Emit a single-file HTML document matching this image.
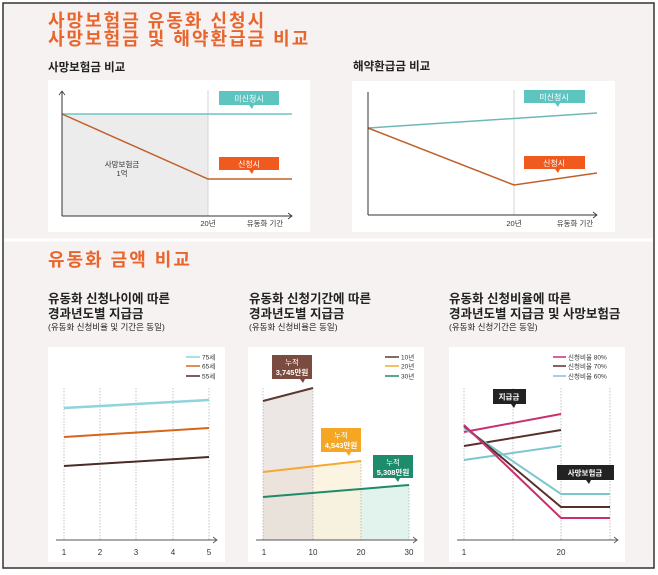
<!DOCTYPE html>
<html><head><meta charset="utf-8"><style>
html,body{margin:0;padding:0;background:#fff;}
svg{display:block;font-family:"Liberation Sans","Noto Sans CJK KR",sans-serif;}
</style></head><body>
<svg width="658" height="575" viewBox="0 0 658 575" xmlns="http://www.w3.org/2000/svg">
<rect x="3" y="3" width="651" height="565" fill="#f7f2f2" stroke="#333" stroke-width="1.5"/>
<line x1="4" y1="240" x2="653" y2="240" stroke="#fff" stroke-width="3"/>

<!-- Top titles -->
<text x="48" y="27" font-size="18" letter-spacing="2" font-weight="bold" fill="#e9652c">사망보험금 유동화 신청시</text>
<text x="48" y="45" font-size="18" letter-spacing="2" font-weight="bold" fill="#e9652c">사망보험금 및 해약환급금 비교</text>
<text x="48" y="71" font-size="11.5" font-weight="bold" fill="#222">사망보험금 비교</text>
<text x="353" y="70" font-size="11.5" font-weight="bold" fill="#222">해약환급금 비교</text>

<!-- Chart 1 -->
<rect x="48" y="80" width="262" height="152" fill="#fff"/>
<rect x="62" y="114" width="146" height="102" fill="#ececec"/>
<line x1="208" y1="90" x2="208" y2="216" stroke="#ccc" stroke-width="0.8"/>
<line x1="62" y1="114" x2="292" y2="114" stroke="#6fc3c3" stroke-width="1.5"/>
<polyline points="62,114 208,179 292,179" fill="none" stroke="#c0602a" stroke-width="1.5"/>
<line x1="62" y1="216" x2="292" y2="216" stroke="#333" stroke-width="1"/>
<line x1="62" y1="92" x2="62" y2="216" stroke="#333" stroke-width="1"/>
<polyline points="288,213 292,216 288,219" fill="none" stroke="#333" stroke-width="0.8"/>
<polyline points="59,95 62,91 65,95" fill="none" stroke="#333" stroke-width="0.8"/>
<rect x="219" y="91" width="60" height="14" fill="#5ec4c0"/><polygon points="249,105 254,105 252,109" fill="#5ec4c0"/>
<text x="249" y="101.5" font-size="8" fill="#fff" text-anchor="middle">미신청시</text>
<rect x="219" y="157" width="60" height="13" fill="#f05a1e"/><polygon points="249,170 254,170 252,174" fill="#f05a1e"/>
<text x="249" y="167" font-size="8" fill="#fff" text-anchor="middle">신청시</text>
<text x="122" y="167" font-size="7.5" fill="#333" text-anchor="middle">사망보험금</text>
<text x="122" y="176" font-size="7.5" fill="#333" text-anchor="middle">1억</text>
<text x="208" y="226" font-size="7.5" fill="#333" text-anchor="middle">20년</text>
<text x="265" y="226" font-size="7.5" fill="#333" text-anchor="middle">유동화 기간</text>

<!-- Chart 2 -->
<rect x="352" y="81" width="263" height="151" fill="#fff"/>
<line x1="514" y1="90" x2="514" y2="215" stroke="#ccc" stroke-width="0.8"/>
<line x1="368" y1="128" x2="597" y2="113" stroke="#6fb8b8" stroke-width="1.5"/>
<polyline points="368,128 514,185 597,173" fill="none" stroke="#c0602a" stroke-width="1.5"/>
<line x1="368" y1="215" x2="597" y2="215" stroke="#333" stroke-width="1"/>
<line x1="368" y1="92" x2="368" y2="215" stroke="#333" stroke-width="1"/>
<polyline points="593,212 597,215 593,218" fill="none" stroke="#333" stroke-width="0.8"/>
<rect x="524" y="90" width="61" height="13" fill="#5ec4c0"/><polygon points="555,103 560,103 558,107" fill="#5ec4c0"/>
<text x="554" y="100" font-size="8" fill="#fff" text-anchor="middle">미신청시</text>
<rect x="524" y="156" width="61" height="13" fill="#f05a1e"/><polygon points="555,169 560,169 558,173" fill="#f05a1e"/>
<text x="554" y="166" font-size="8" fill="#fff" text-anchor="middle">신청시</text>
<text x="514" y="226" font-size="7.5" fill="#333" text-anchor="middle">20년</text>
<text x="575" y="226" font-size="7.5" fill="#333" text-anchor="middle">유동화 기간</text>

<!-- Section 2 -->
<text x="48" y="266" font-size="18" letter-spacing="2" font-weight="bold" fill="#e9652c">유동화 금액 비교</text>

<!-- Panel A -->
<text x="48" y="303" font-size="12.5" font-weight="bold" fill="#222">유동화 신청나이에 따른</text>
<text x="48" y="318" font-size="12.5" font-weight="bold" fill="#222">경과년도별 지급금</text>
<text x="48" y="330" font-size="8.5" fill="#222">(유동화 신청비율 및 기간은 동일)</text>
<rect x="48" y="347" width="177" height="215" fill="#fff"/>
<g stroke="#aaa" stroke-width="0.7" stroke-dasharray="1.5,1.5">
<line x1="64" y1="388" x2="64" y2="540"/><line x1="100" y1="388" x2="100" y2="540"/><line x1="136" y1="388" x2="136" y2="540"/><line x1="173" y1="388" x2="173" y2="540"/><line x1="209" y1="388" x2="209" y2="540"/></g>
<line x1="64" y1="408" x2="209" y2="400" stroke="#8fd3dc" stroke-width="2.5"/>
<line x1="64" y1="437" x2="209" y2="428" stroke="#d8651e" stroke-width="2"/>
<line x1="64" y1="466" x2="209" y2="457" stroke="#4a2c26" stroke-width="2"/>
<line x1="56" y1="540" x2="217" y2="540" stroke="#555" stroke-width="1"/>
<polyline points="213,537 217,540 213,543" fill="none" stroke="#555" stroke-width="0.8"/>
<g font-size="8" fill="#333" text-anchor="middle"><text x="64" y="555">1</text><text x="100" y="555">2</text><text x="136" y="555">3</text><text x="173" y="555">4</text><text x="209" y="555">5</text></g>
<g font-size="6.5" fill="#333"><line x1="186" y1="357" x2="200" y2="357" stroke="#8fd3dc" stroke-width="1.5"/><text x="202" y="359.5">75세</text>
<line x1="186" y1="366" x2="200" y2="366" stroke="#d8651e" stroke-width="1.5"/><text x="202" y="368.5">65세</text>
<line x1="186" y1="376" x2="200" y2="376" stroke="#4a2c26" stroke-width="1.5"/><text x="202" y="378.5">55세</text></g>

<!-- Panel B -->
<text x="249" y="303" font-size="12.5" font-weight="bold" fill="#222">유동화 신청기간에 따른</text>
<text x="249" y="318" font-size="12.5" font-weight="bold" fill="#222">경과년도별 지급금</text>
<text x="249" y="330" font-size="8.5" fill="#222">(유동화 신청비율은 동일)</text>
<rect x="248" y="347" width="176" height="215" fill="#fff"/>
<polygon points="263,497 409,485 409,540 263,540" fill="#e2f2ec"/>
<polygon points="263,472 361,461 361,540 263,540" fill="#fbf1dc" opacity="0.8"/>
<polygon points="263,401 313,388 313,540 263,540" fill="#e4dcd8" opacity="0.7"/>
<g stroke="#aaa" stroke-width="0.7" stroke-dasharray="1.5,1.5">
<line x1="263" y1="388" x2="263" y2="540"/><line x1="313" y1="388" x2="313" y2="540"/><line x1="361" y1="461" x2="361" y2="540"/><line x1="409" y1="485" x2="409" y2="540"/></g>
<line x1="263" y1="401" x2="313" y2="388" stroke="#5a3a30" stroke-width="2"/>
<line x1="263" y1="472" x2="361" y2="461" stroke="#f5a833" stroke-width="2"/>
<line x1="263" y1="497" x2="409" y2="485" stroke="#1f8a6a" stroke-width="2"/>
<line x1="256" y1="540" x2="417" y2="540" stroke="#555" stroke-width="1"/>
<polyline points="413,537 417,540 413,543" fill="none" stroke="#555" stroke-width="0.8"/>
<g font-size="8" fill="#333" text-anchor="middle"><text x="264" y="555">1</text><text x="313" y="555">10</text><text x="361" y="555">20</text><text x="409" y="555">30</text></g>
<rect x="272" y="355" width="40" height="24" fill="#7a4b3e"/><polygon points="300,379 305,379 303,383" fill="#7a4b3e"/>
<text x="292" y="365" font-size="7.5" fill="#fff" text-anchor="middle">누적</text><text x="292" y="375" font-size="7.5" font-weight="bold" fill="#fff" text-anchor="middle">3,745만원</text>
<rect x="321" y="428" width="40" height="24" fill="#f5a623"/><polygon points="346,452 351,452 349,456" fill="#f5a623"/>
<text x="341" y="438" font-size="7.5" fill="#fff" text-anchor="middle">누적</text><text x="341" y="448" font-size="7.5" font-weight="bold" fill="#fff" text-anchor="middle">4,543만원</text>
<rect x="373" y="455" width="40" height="23" fill="#1e8c6c"/><polygon points="395,478 400,478 398,482" fill="#1e8c6c"/>
<text x="393" y="465" font-size="7.5" fill="#fff" text-anchor="middle">누적</text><text x="393" y="475" font-size="7.5" font-weight="bold" fill="#fff" text-anchor="middle">5,308만원</text>
<g font-size="6.5" fill="#333"><line x1="385" y1="357" x2="399" y2="357" stroke="#5a3a30" stroke-width="1.5"/><text x="401" y="359.5">10년</text>
<line x1="385" y1="366" x2="399" y2="366" stroke="#f5a833" stroke-width="1.5"/><text x="401" y="368.5">20년</text>
<line x1="385" y1="376" x2="399" y2="376" stroke="#1f8a6a" stroke-width="1.5"/><text x="401" y="378.5">30년</text></g>

<!-- Panel C -->
<text x="449" y="303" font-size="12.5" font-weight="bold" fill="#222">유동화 신청비율에 따른</text>
<text x="449" y="318" font-size="12.5" font-weight="bold" fill="#222">경과년도별 지급금 및 사망보험금</text>
<text x="449" y="330" font-size="8.5" fill="#222">(유동화 신청기간은 동일)</text>
<rect x="449" y="347" width="176" height="215" fill="#fff"/>
<g stroke="#aaa" stroke-width="0.7" stroke-dasharray="1.5,1.5">
<line x1="464" y1="388" x2="464" y2="540"/><line x1="513" y1="388" x2="513" y2="540"/><line x1="561" y1="388" x2="561" y2="540"/><line x1="610" y1="388" x2="610" y2="540"/></g>
<line x1="464" y1="460" x2="561" y2="446" stroke="#7cc6cf" stroke-width="2"/>
<line x1="464" y1="446" x2="561" y2="430" stroke="#5a2f2a" stroke-width="2"/>
<line x1="464" y1="432" x2="561" y2="414" stroke="#c8306e" stroke-width="2"/>
<polyline points="464,428 561,494 610,494" fill="none" stroke="#7cc6cf" stroke-width="2"/>
<polyline points="464,426 561,507 610,507" fill="none" stroke="#5a2f2a" stroke-width="2"/>
<polyline points="464,425 561,518 610,518" fill="none" stroke="#c8306e" stroke-width="2"/>
<line x1="457" y1="540" x2="618" y2="540" stroke="#555" stroke-width="1"/>
<polyline points="614,537 618,540 614,543" fill="none" stroke="#555" stroke-width="0.8"/>
<g font-size="8" fill="#333" text-anchor="middle"><text x="464" y="555">1</text><text x="561" y="555">20</text></g>
<rect x="493" y="389" width="33" height="15" fill="#222"/><polygon points="511,404 516,404 514,408" fill="#222"/>
<text x="509" y="399.5" font-size="7.5" font-weight="bold" fill="#fff" text-anchor="middle">지급금</text>
<rect x="557" y="465" width="57" height="15" fill="#222"/><polygon points="586,480 591,480 589,484" fill="#222"/>
<text x="585" y="475.5" font-size="7.5" font-weight="bold" fill="#fff" text-anchor="middle">사망보험금</text>
<g font-size="6.5" fill="#333"><line x1="553" y1="357" x2="566" y2="357" stroke="#c8306e" stroke-width="1.5"/><text x="568" y="359.5">신청비율 80%</text>
<line x1="553" y1="366" x2="566" y2="366" stroke="#5a2f2a" stroke-width="1.5"/><text x="568" y="368.5">신청비율 70%</text>
<line x1="553" y1="376" x2="566" y2="376" stroke="#7cc6cf" stroke-width="1.5"/><text x="568" y="378.5">신청비율 60%</text></g>
</svg>
</body></html>
